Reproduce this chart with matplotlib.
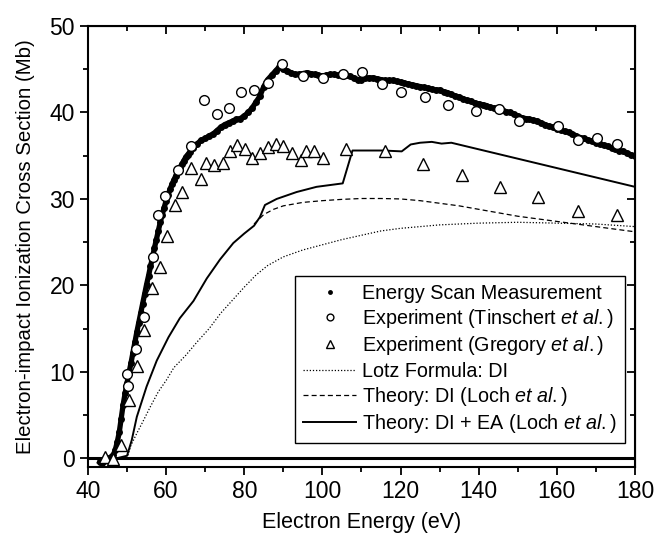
import matplotlib
matplotlib.use("Agg")
import matplotlib.pyplot as plt
from matplotlib.ticker import MultipleLocator
import numpy as np

plt.rcParams['font.family'] = ['Liberation Sans', 'DejaVu Sans']
plt.rcParams['mathtext.fontset'] = 'custom'
plt.rcParams['mathtext.rm'] = 'Liberation Sans'
plt.rcParams['mathtext.it'] = 'Liberation Sans:italic'

# energy scan measurement (0.5 eV steps on the rise, 1 eV afterwards)
scan_energy = np.concatenate([np.arange(43, 66, 0.5), np.arange(66, 181, 1.0)])
scan_xs = [
    -0.4, -0.5, -0.3, -0.2, -0.1, 0.0, 0.2, 0.4, 1.0, 1.9,
    3.0, 4.6, 6.2, 7.5, 8.7, 9.9, 11.0, 12.2, 13.4, 14.6,
    15.7, 16.8, 17.9, 19.0, 20.1, 21.1, 22.2, 23.2, 24.3, 25.3,
    26.3, 27.3, 28.2, 29.0, 29.8, 30.5, 31.1, 31.7, 32.2, 32.7,
    33.2, 33.6, 34.0, 34.4, 34.8, 35.1,
    35.4, 35.9, 36.4, 36.8, 37.0, 37.3, 37.5, 37.9, 38.3, 38.6,
    38.8, 39.0, 39.2, 39.3, 39.6, 40.0, 40.5, 41.2, 41.9, 43.0,
    43.8, 44.3, 44.8, 45.3, 45.0, 44.8, 44.6, 44.4, 44.4, 44.5,
    44.6, 44.5, 44.4, 44.3, 44.2, 44.3, 44.4, 44.4, 44.3, 44.3,
    44.3, 44.2, 44.0, 43.8, 43.8, 44.0, 44.0, 44.0, 43.9, 43.8,
    43.7, 43.7, 43.7, 43.6, 43.5, 43.4, 43.3, 43.2, 43.1, 43.0,
    42.9, 42.8, 42.7, 42.6, 42.6, 42.4, 42.3, 42.1, 41.9, 41.8,
    41.6, 41.4, 41.3, 41.1, 41.0, 40.9, 40.8, 40.6, 40.5, 40.4,
    40.3, 40.1, 40.0, 39.8, 39.6, 39.4, 39.3, 39.2, 39.1, 39.0,
    38.8, 38.6, 38.4, 38.3, 38.1, 38.0, 37.8, 37.7, 37.5, 37.3,
    37.1, 37.0, 36.8, 36.7, 36.5, 36.4, 36.2, 36.1, 35.9, 35.8,
    35.6, 35.5, 35.3, 35.1, 35.0,
]

# Tinschert et al.
tin_energy = [50.1, 50.3, 52.4, 54.4, 56.6, 58.0, 59.8, 63.1, 66.4, 69.6,
              73.0, 76.0, 79.2, 82.4, 86.1, 89.7, 95.0, 100.1, 105.2, 110.2,
              115.2, 120.2, 126.2, 132.2, 139.3, 145.3, 150.2, 160.3, 165.3,
              170.3, 175.4]
tin_xs = [9.7, 8.4, 12.7, 16.4, 23.3, 28.2, 30.3, 33.4, 36.1, 41.5,
          39.8, 40.5, 42.4, 42.6, 43.4, 45.6, 44.2, 44.0, 44.4, 44.7,
          43.3, 42.4, 41.8, 40.9, 40.2, 40.4, 39.0, 38.4, 36.8,
          37.1, 36.3]

# Gregory et al.
greg_energy = [44.4, 46.3, 48.4, 50.6, 52.5, 54.4, 56.4, 58.4, 60.1, 62.3,
               64.1, 66.4, 68.9, 70.1, 72.3, 74.5, 76.3, 78.2, 80.3, 82.0,
               84.0, 86.2, 88.1, 90.0, 92.1, 94.6, 95.8, 97.8, 100.1, 106.0,
               116.0, 125.8, 135.8, 145.5, 155.3, 165.5, 175.3]
greg_xs = [0.2, -0.1, 1.6, 6.7, 10.7, 14.8, 19.7, 22.1, 25.7, 29.3,
           30.8, 33.6, 32.3, 34.1, 33.9, 34.2, 35.6, 36.2, 35.8, 34.7,
           35.3, 36.0, 36.4, 36.1, 35.3, 34.5, 35.6, 35.5, 34.7, 35.8,
           35.6, 34.0, 32.8, 31.4, 30.2, 28.6, 28.2]

# Lotz formula: DI
lotz_energy = [50, 51, 52.5, 54, 56, 58, 60, 62, 65, 68, 71, 74, 77, 80, 83,
               86, 90, 95, 100, 105, 110, 115, 120, 130, 140, 150, 160, 170, 180]
lotz_xs = [0, 1.5, 2.9, 4.2, 6.0, 7.7, 9.0, 10.5, 11.9, 13.5, 15.0, 16.8, 18.3,
           19.8, 21.2, 22.3, 23.3, 24.1, 24.7, 25.3, 25.8, 26.3, 26.6, 27.0,
           27.2, 27.3, 27.2, 27.1, 26.8]

# Theory DI (Loch et al.)
di_energy = [82.5, 85, 87.5, 90, 95, 100, 105, 110, 115, 120, 125, 130, 135,
             140, 145, 150, 155, 160, 165, 170, 175, 180]
di_xs = [27.1, 28.2, 28.8, 29.2, 29.6, 29.8, 29.95, 30.05, 30.05, 30.0, 29.8,
         29.5, 29.2, 28.8, 28.4, 28.0, 27.7, 27.4, 27.1, 26.8, 26.5, 26.2]

# Theory DI + EA (Loch et al.)
ea_energy = [46, 47.3, 50.0, 51.2, 52.5, 55.0, 57.6, 60.6, 63.5, 67.0, 70.4,
             73.8, 77.2, 80.0, 82.5, 84.0, 85.3, 88.3, 93.4, 98.5, 105.2, 107.7,
             115.6, 120.3, 122.6, 125.0, 128.0, 130.5, 133.0, 180]
ea_xs = [0, 0, 0.3, 2.1, 4.8, 8.3, 11.3, 14.0, 16.2, 18.2, 20.8, 23.0, 24.9,
         26.0, 26.9, 27.9, 29.3, 30.0, 30.8, 31.4, 31.8, 35.6, 35.6, 35.5, 36.3,
         36.5, 36.6, 36.4, 36.5, 31.4]

fig = plt.figure(figsize=(6.58, 5.34), dpi=100)
ax = fig.add_axes([0.1337, 0.1255, 0.8313, 0.8258])

ax.axhline(0, color='k', lw=2.2, zorder=1)
ax.plot(lotz_energy, lotz_xs, color='k', ls=(0, (1, 1.5)), lw=0.9,
        label='Lotz Formula: DI')
ax.plot(di_energy, di_xs, color='k', ls=(0, (4, 2.5)), lw=0.9,
        label='Theory: DI (Loch $\\mathit{et\\ al.}$)')
ax.plot(ea_energy, ea_xs, color='k', lw=1.4,
        label='Theory: DI + EA (Loch $\\mathit{et\\ al.}$)')
# dense scan points: a thick trace under the dots so they merge into a band
ax.plot(scan_energy, scan_xs, '-', color='k', lw=3.8, zorder=3)
ax.plot(scan_energy, scan_xs, 'o', color='k', ms=5.0, mew=0,
        label='Energy Scan Measurement', zorder=3)
ax.plot(tin_energy, tin_xs, 'o', mfc='white', mec='k', ms=7, mew=1,
        label='Experiment (Tinschert $\\mathit{et\\ al.}$)', zorder=4)
ax.plot(greg_energy, greg_xs, '^', mfc='white', mec='k', ms=8, mew=1,
        label='Experiment (Gregory $\\mathit{et\\ al.}$)', zorder=4)

ax.set_xlim(40, 180)
ax.set_ylim(-1, 50)
ax.xaxis.set_major_locator(MultipleLocator(20))
ax.xaxis.set_minor_locator(MultipleLocator(10))
ax.yaxis.set_major_locator(MultipleLocator(10))
ax.yaxis.set_minor_locator(MultipleLocator(5))
ax.tick_params(which='both', direction='out', top=False, right=False,
               width=1.3, labelsize=16.5)
ax.tick_params(which='major', length=6)
ax.tick_params(which='minor', length=3.5)
for s in ax.spines.values():
    s.set_linewidth(1.5)

top = ax.secondary_xaxis('top')
top.xaxis.set_major_locator(MultipleLocator(20))
top.xaxis.set_minor_locator(MultipleLocator(10))
top.tick_params(which='both', direction='in', labeltop=False, width=1.3)
top.tick_params(which='major', length=6)
top.tick_params(which='minor', length=3.5)
right = ax.secondary_yaxis('right')
right.yaxis.set_major_locator(MultipleLocator(10))
right.yaxis.set_minor_locator(MultipleLocator(5))
right.tick_params(which='both', direction='in', labelright=False, width=1.3)
right.tick_params(which='major', length=6)
right.tick_params(which='minor', length=3.5)

ax.set_xlabel('Electron Energy (eV)', fontsize=15.5, labelpad=6)
ax.set_ylabel('Electron-impact Ionization Cross Section (Mb)', fontsize=14.7,
              labelpad=10)

handles, labels = ax.get_legend_handles_labels()
order = [3, 4, 5, 0, 1, 2]
leg = ax.legend([handles[i] for i in order], [labels[i] for i in order],
                loc='lower right', bbox_to_anchor=(0.982, 0.054),
                borderaxespad=0, fontsize=14.2, fancybox=False, framealpha=1,
                edgecolor='k', handlelength=2.7, handletextpad=0.3,
                labelspacing=0.22, markerscale=0.7)
leg.get_frame().set_linewidth(1.0)

fig.savefig('out.png', dpi=100)
